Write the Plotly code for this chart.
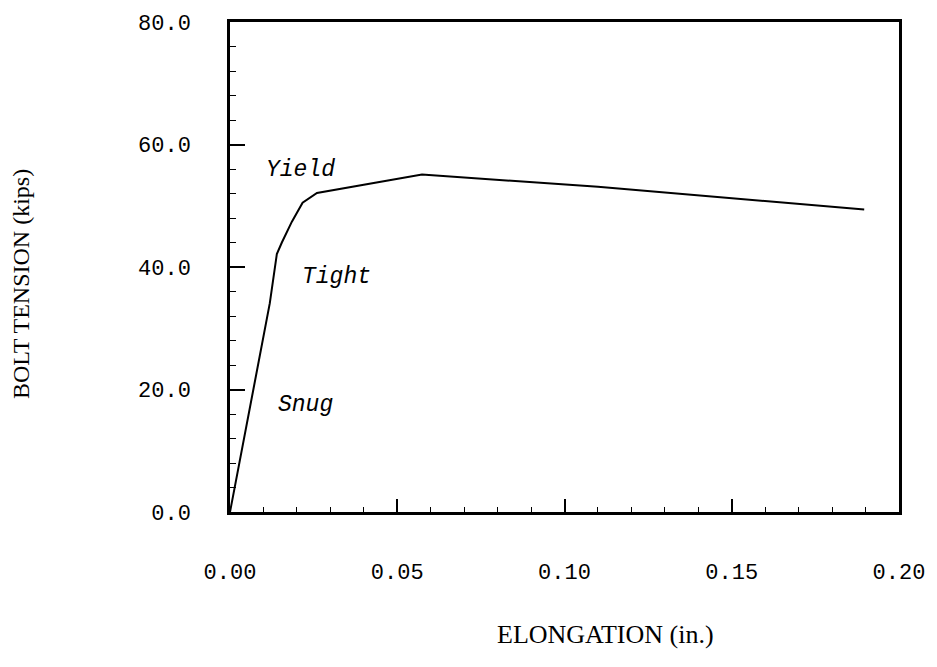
import plotly.graph_objects as go

elongation = [0.0, 0.0119, 0.014, 0.0155, 0.0185, 0.0217, 0.026, 0.0574, 0.11, 0.1896]
tension = [0.0, 34.1, 42.1, 44.0, 47.4, 50.5, 52.1, 55.1, 53.1, 49.4]

label_text = ["Yield", "Tight", "Snug"]
label_x = [0.0211, 0.0318, 0.0226]
label_y = [55.8, 38.4, 17.5]

x_ticks = [0.0, 0.05, 0.10, 0.15, 0.20]
x_ticktext = ["0.00", "0.05", "0.10", "0.15", "0.20"]
y_ticks = [0, 20, 40, 60, 80]
y_ticktext = ["0.0", "20.0", "40.0", "60.0", "80.0"]

fig = go.Figure()
fig.add_trace(go.Scatter(x=elongation, y=tension, mode="lines",
                         line=dict(color="black", width=2), showlegend=False,
                         hoverinfo="skip"))

for t, xx, yy in zip(label_text, label_x, label_y):
    fig.add_annotation(x=xx, y=yy, text=t, showarrow=False,
                       font=dict(family="Liberation Mono", size=23, color="black", style="italic"))

fig.add_annotation(xref="paper", yref="paper", x=(606 - 230) / 670, y=-(637 - 512) / 498,
                   xanchor="center", yanchor="middle",
                   text="ELONGATION (in.)", showarrow=False,
                   font=dict(family="Liberation Serif", size=26, color="black"))
fig.add_annotation(xref="paper", yref="paper", x=-(230 - 20) / 670, y=(512 - 280) / 498,
                   xanchor="center", yanchor="middle",
                   text="BOLT TENSION (kips)", showarrow=False, textangle=-90,
                   font=dict(family="Liberation Serif", size=24, color="black"))

fig.update_xaxes(range=[0, 0.2], tickvals=x_ticks, ticktext=x_ticktext,
                 ticks="inside", ticklen=13, tickwidth=1.5, tickcolor="black",
                 minor=dict(dtick=0.01, ticks="inside", ticklen=5, tickwidth=1.2, tickcolor="black"),
                 showline=True, linecolor="black", linewidth=2.5, mirror=True,
                 showgrid=False, zeroline=False, ticklabelstandoff=38,
                 tickfont=dict(family="Liberation Mono", size=22, color="black"))
fig.update_yaxes(range=[0, 80], tickvals=y_ticks, ticktext=y_ticktext,
                 ticks="inside", ticklen=15, tickwidth=1.5, tickcolor="black",
                 minor=dict(dtick=4, ticks="inside", ticklen=6, tickwidth=1.2, tickcolor="black"),
                 showline=True, linecolor="black", linewidth=2.5, mirror=True,
                 showgrid=False, zeroline=False, ticklabelstandoff=32,
                 tickfont=dict(family="Liberation Mono", size=22, color="black"))

fig.update_layout(width=937, height=667, margin=dict(l=230, r=37, t=14, b=155),
                  paper_bgcolor="white", plot_bgcolor="white")

fig.write_html("out.html")
